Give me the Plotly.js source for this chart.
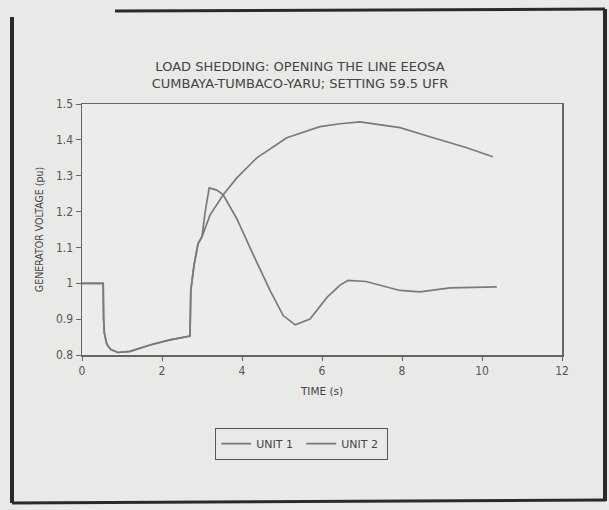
<!DOCTYPE html>
<html>
<head>
<meta charset="utf-8">
<script src="https://cdn.plot.ly/plotly-3.0.1.min.js"></script>
<style>
html,body{margin:0;padding:0;background:#e9e9e7;}
#chart{width:609px;height:510px;}
</style>
</head>
<body>
<div id="chart"></div>
<script>
// Unit 1 (upper curve)
var t1 = [0, 0.53, 0.54, 0.56, 0.62, 0.72, 0.9, 1.2, 1.7, 2.2, 2.7, 2.72, 2.8, 2.9, 3.0, 3.2, 3.53, 3.87, 4.37, 5.12, 5.95, 6.45, 6.95, 7.95, 8.78, 9.62, 10.27];
var v1 = [1.0, 1.0, 0.9, 0.86, 0.83, 0.815, 0.807, 0.81, 0.828, 0.842, 0.853, 0.98, 1.05, 1.11, 1.13, 1.19, 1.247, 1.294, 1.35, 1.406, 1.437, 1.445, 1.45, 1.434, 1.406, 1.378, 1.353];
// Unit 2 (lower curve)
var t2 = [0, 0.53, 0.54, 0.56, 0.62, 0.72, 0.9, 1.2, 1.7, 2.2, 2.7, 2.72, 2.8, 2.9, 3.0, 3.08, 3.18, 3.37, 3.53, 3.87, 4.28, 4.7, 5.03, 5.33, 5.7, 6.12, 6.45, 6.65, 7.1, 7.95, 8.45, 9.2, 10.37];
var v2 = [1.0, 1.0, 0.9, 0.86, 0.83, 0.815, 0.807, 0.81, 0.828, 0.842, 0.853, 0.98, 1.05, 1.11, 1.13, 1.2, 1.266, 1.26, 1.247, 1.18, 1.08, 0.98, 0.91, 0.884, 0.90, 0.96, 0.995, 1.008, 1.005, 0.98, 0.976, 0.987, 0.99];
var seriesNames = ['UNIT 1', 'UNIT 2'];
var xTicks = [0, 2, 4, 6, 8, 10, 12];
var yTicks = [0.8, 0.9, 1, 1.1, 1.2, 1.3, 1.4, 1.5];
var yTickText = ['0.8', '0.9', '1', '1.1', '1.2', '1.3', '1.4', '1.5'];

var FONT = 'Liberation Sans Narrow, DejaVu Sans Condensed, Arial Narrow, sans-serif';
var TFONT = 'DejaVu Sans, sans-serif';
var ink = '#555';

var traces = [
  {x: t1, y: v1, name: seriesNames[0], mode: 'lines', line: {color: '#7a7a7a', width: 1.7}},
  {x: t2, y: v2, name: seriesNames[1], mode: 'lines', line: {color: '#7a7a7a', width: 1.7}}
];

// frame helper: pixel -> paper
function px(x){ return (x - 82) / 480; }
function py(y){ return (355 - y) / 251; }
var frameColor = '#2a2a2a';

var layout = {
  width: 609, height: 510,
  margin: {l: 82, r: 47, t: 104, b: 155},
  paper_bgcolor: '#e9e9e7',
  plot_bgcolor: '#ececea',
  font: {family: FONT, color: ink, size: 11},
  title: {
    text: 'LOAD SHEDDING: OPENING THE LINE EEOSA<br>CUMBAYA-TUMBACO-YARU; SETTING 59.5 UFR',
    font: {family: TFONT, size: 13, color: '#444'},
    x: 300 / 609, xref: 'container', xanchor: 'center',
    y: 1 - 71/510, yref: 'container', yanchor: 'middle'
  },
  xaxis: {
    range: [0, 12], tickvals: xTicks, ticktext: xTicks.map(String),
    showgrid: false, zeroline: false,
    showline: true, linecolor: '#666', linewidth: 1.5, mirror: true,
    ticks: 'outside', ticklen: 4, tickcolor: '#666',
    tickfont: {family: FONT, size: 12, color: ink},
    title: {text: 'TIME (s)', font: {family: TFONT, size: 10.5, color: '#444'}, standoff: 10}
  },
  yaxis: {
    range: [0.8, 1.5], tickvals: yTicks, ticktext: yTickText,
    showgrid: false, zeroline: false,
    showline: true, linecolor: '#666', linewidth: 1.5, mirror: true,
    ticks: 'outside', ticklen: 5, tickcolor: '#666',
    tickfont: {family: FONT, size: 12, color: ink},
    title: {text: 'GENERATOR VOLTAGE (pu)', font: {family: FONT, size: 10.5, color: '#444'}, standoff: 10}
  },
  showlegend: true,
  legend: {
    orientation: 'h', x: px(215), y: py(428), xanchor: 'left', yanchor: 'top',
    entrywidth: 40, entrywidthmode: 'pixels',
    bgcolor: 'rgba(0,0,0,0)', bordercolor: '#555', borderwidth: 1.2,
    font: {family: TFONT, size: 11, color: '#444'}
  },
  shapes: [
    {type: 'line', xref: 'paper', yref: 'paper', x0: px(12), x1: px(12), y0: py(17), y1: py(503), line: {color: frameColor, width: 4}},
    {type: 'line', xref: 'paper', yref: 'paper', x0: px(115), x1: px(605), y0: py(11), y1: py(9), line: {color: frameColor, width: 3}},
    {type: 'line', xref: 'paper', yref: 'paper', x0: px(605), x1: px(605), y0: py(9), y1: py(501), line: {color: frameColor, width: 4}},
    {type: 'line', xref: 'paper', yref: 'paper', x0: px(12), x1: px(606), y0: py(503), y1: py(500), line: {color: frameColor, width: 3}}
  ]
};

Plotly.newPlot('chart', traces, layout, {displayModeBar: false, staticPlot: true});
</script>
</body>
</html>
